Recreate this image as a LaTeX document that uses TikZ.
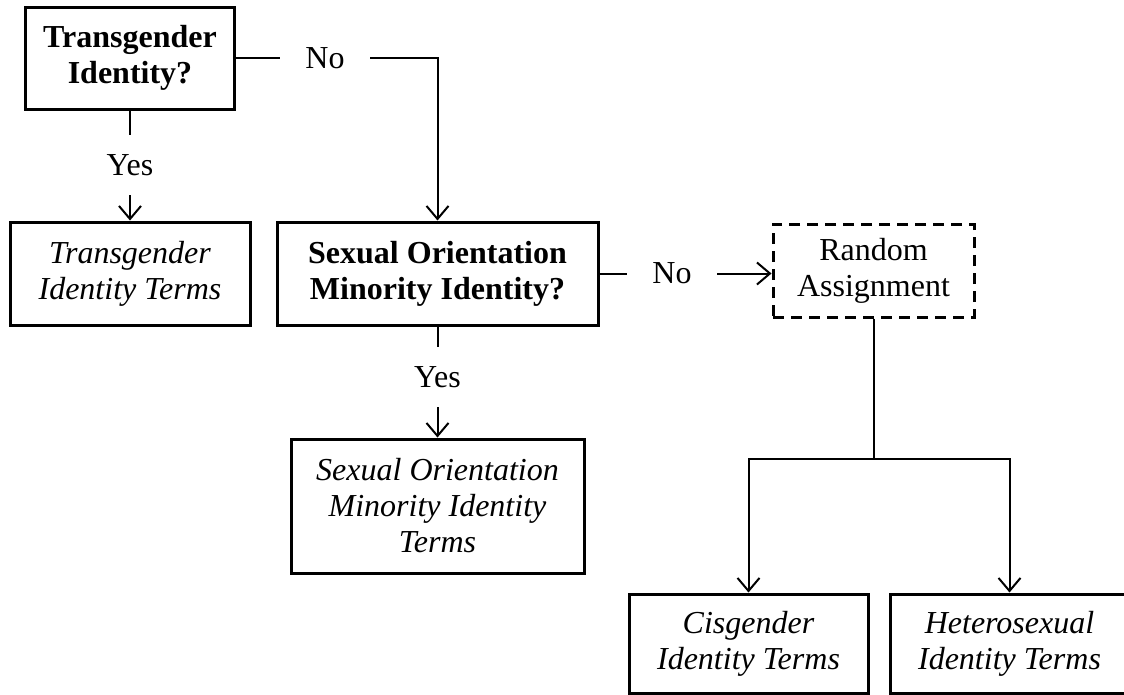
\documentclass[tikz,border=0pt]{standalone}
\usepackage{fontspec}
\setmainfont{Liberation Serif}
\usetikzlibrary{arrows.meta}
\begin{document}
\begin{tikzpicture}[x=1pt,y=-1pt,
  box/.style={draw,line width=3pt,align=center,inner sep=0pt,
    font=\fontsize{32}{36}\selectfont},
  dbox/.style={box,dash pattern=on 11pt off 7pt},
  lbl/.style={inner sep=0pt,minimum width=90pt,minimum height=60pt,
    font=\fontsize{32}{36}\selectfont},
  conn/.style={line width=2pt},
  arr/.style={conn,-{Straight Barb[length=13pt,width=22pt,line width=2pt]}}]
\useasboundingbox (0,0) rectangle (1124,694);
\fill[white] (0,0) rectangle (1124,694);

% question and outcome boxes
\node[box,minimum width=209pt,minimum height=102pt] (q1) at (130,58)
  {\textbf{Transgender}\\\textbf{Identity?}};
\node[box,minimum width=240pt,minimum height=103pt] (t1) at (130,273.5)
  {\textit{Transgender}\\\textit{Identity Terms}};
\node[box,minimum width=321pt,minimum height=103pt] (q2) at (437.5,273.5)
  {\textbf{Sexual Orientation}\\\textbf{Minority Identity?}};
\node[dbox,minimum width=201pt,minimum height=93pt] (ra) at (873.5,270.5)
  {Random\\Assignment};
\node[box,minimum width=293pt,minimum height=134pt] (t2) at (437.5,506)
  {\textit{Sexual Orientation}\\\textit{Minority Identity}\\\textit{Terms}};
\node[box,minimum width=239pt,minimum height=99pt] (cis) at (748.5,643.5)
  {\textit{Cisgender}\\\textit{Identity Terms}};
\node[box,minimum width=239pt,minimum height=99pt] (het) at (1009.5,643.5)
  {\textit{Heterosexual}\\\textit{Identity Terms}};

% branch labels
\node[lbl] (no1) at (325,58) {No};
\node[lbl] (yes1) at (130,165) {Yes};
\node[lbl] (no2) at (672,273.5) {No};
\node[lbl] (yes2) at (437.5,377) {Yes};
\coordinate (split) at (873.5,459);

% connectors
\draw[conn] (q1.east) -- (no1.west);
\draw[arr] (no1.east) -| (q2.north);
\draw[conn] (q1.south) -- (yes1.north);
\draw[arr] (yes1.south) -- (t1.north);
\draw[conn] (q2.east) -- (no2.west);
\draw[arr] (no2.east) -- (no2.east -| ra.west);
\draw[conn] (q2.south) -- (yes2.north);
\draw[arr] (yes2.south) -- (t2.north);
\draw[conn] (ra.south) -- (split);
\draw[arr] (split) -| (cis.north);
\draw[arr] (split) -| (het.north);
\end{tikzpicture}
\end{document}
